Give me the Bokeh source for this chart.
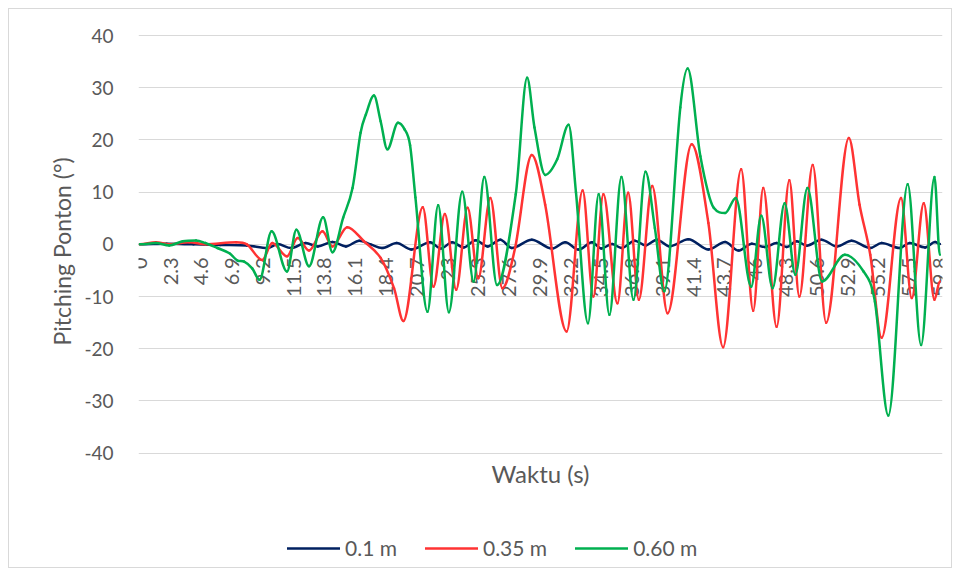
import math
from bokeh.plotting import figure
from bokeh.models import FixedTicker, Label, Legend, LegendItem, Range1d, ColumnDataSource, Title
from bokeh.core.properties import value
from bokeh.embed import file_html
from bokeh.resources import INLINE

# ---------------- data ----------------
tick_vals = [0, 2.3, 4.6, 6.9, 9.2, 11.5, 13.8, 16.1, 18.4, 20.7, 23, 25.3, 27.6,
             29.9, 32.2, 34.5, 36.8, 39.1, 41.4, 43.7, 46, 48.3, 50.6, 52.9, 55.2,
             57.5, 59.8]
tick_labels = ["0", "2.3", "4.6", "6.9", "9.2", "11.5", "13.8", "16.1", "18.4", "20.7",
               "23", "25.3", "27.6", "29.9", "32.2", "34.5", "36.8", "39.1", "41.4",
               "43.7", "46", "48.3", "50.6", "52.9", "55.2", "57.5", "59.8"]
y_ticks = [-40, -30, -20, -10, 0, 10, 20, 30, 40]

t_01 = [0, 2.0, 4.0, 6.0, 8.0, 9.55, 10.3, 11.3, 12.4, 13.3, 14.4, 15.4, 16.4, 17.25,
        18.1, 19.2, 20.3, 21.7, 22.5, 23.35, 24.2, 25.1, 26.0, 26.95, 27.8, 29.3, 30.8,
        31.8, 32.8, 33.8, 34.5, 35.3, 36.0, 37.0, 37.8, 38.65, 39.6, 41.0, 42.5, 43.75,
        44.75, 45.75, 46.7, 47.6, 48.35, 49.1, 49.85, 50.95, 52.1, 53.2, 54.6, 55.45,
        56.8, 57.55, 58.7, 59.45, 59.8]
v_01 = [0, 0.1, 0, -0.1, -0.2, -0.7, 0.05, -0.7, 0.25, -0.4, 0.45, -0.4, 0.7, 0,
        -0.7, 0.25, -1.0, 0.4, -0.8, 0.4, -0.6, 0.8, -0.4, 0.9, -0.7, 0.9, -0.8,
        0.4, -1.0, 0.4, -0.8, 0.05, -0.7, 0.7, -0.2, 0.9, -0.4, 1.0, -1.0, 0.45,
        -1.2, 0.1, -0.5, 0.25, -0.5, 0.6, -0.25, 0.9, -0.4, 0.7, -0.7, 0.25,
        -0.7, 0.25, -0.6, 0.45, 0.05]

t_035 = [0, 1.2, 2.2, 3.7, 4.9, 7.2, 8.0, 9.15, 9.9, 11.0, 11.8, 12.65, 13.65, 14.4,
         15.5, 16.75, 18.0, 19.0, 19.7, 21.15, 21.95, 22.8, 23.65, 24.5, 25.3, 26.2,
         27.1, 28.05, 29.3, 30.3, 31.9, 33.1, 33.9, 34.65, 35.7, 36.5, 37.3, 38.3,
         39.45, 41.25, 42.5, 43.6, 44.95, 45.85, 46.6, 47.6, 48.55, 49.3, 50.3, 51.3,
         53.0, 53.8, 54.6, 55.45, 56.9, 57.7, 58.6, 59.4, 59.8]
v_035 = [0, 0.4, 0, 0.4, 0, 0.4, 0, -3.0, 0.25, -2.3, 1.2, -1.2, 2.5, -0.4,
         3.3, 0.6, -2.6, -8.4, -14.7, 7.1, -8.1, 5.8, -8.7, 7.0, -6.5, 8.9,
         -8.4, -0.7, 17.1, 7.6, -16.7, 10.3, -10.0, 9.6, -11.3, 9.9, -10.6, 11.2,
         -13.2, 19.2, 4.1, -19.7, 14.4, -12.7, 10.8, -15.8, 12.3, -10.0, 15.2, -15.0,
         20.4, 7.6, -2.0, -17.9, 8.9, -10.3, 7.9, -10.6, -7.1]

t_060 = [0, 1.2, 2.2, 3.2, 4.2, 4.9, 5.8, 6.7, 7.3, 7.8, 8.4, 8.95, 9.85, 11.0, 11.7,
         12.65, 13.7, 14.4, 15.2, 15.9, 16.5, 16.9, 17.5, 18.0, 18.5, 19.3, 19.8, 20.2,
         20.6, 21.5, 22.3, 23.1, 24.1, 24.95, 25.75, 26.7, 28.1, 28.95, 29.5, 30.3,
         31.2, 32.05, 32.6, 33.5, 34.3, 35.1, 36.0, 36.9, 37.8, 38.5, 39.2, 40.4,
         40.95, 41.9, 42.9, 43.75, 44.55, 45.7, 46.45, 47.3, 48.2, 49.0, 49.9, 51.0,
         52.7, 54.1, 54.95, 55.95, 57.4, 58.4, 59.4, 59.8]
v_060 = [0, 0.25, -0.2, 0.6, 0.75, 0.25, -0.7, -1.7, -3.1, -3.3, -4.6, -6.8, 2.5, -5.2, 2.8,
         -4.2, 5.2, -1.5, 5.1, 10.8, 21.4, 24.9, 28.5, 23.6, 18.2, 23.3, 22.0, 19.0,
         9.0, -12.9, 7.5, -13.0, 10.1, -7.1, 12.9, -7.8, 9.6, 31.9, 22.4, 13.3,
         16.3, 22.9, 10.0, -15.1, 9.6, -13.5, 12.9, -10.6, 13.9, 3.1, -9.0, 26.2,
         33.7, 16.9, 7.0, 6.0, 8.9, -8.1, 5.5, -8.4, 7.9, -5.8, 10.8, -7.1,
         -2.0, -5.2, -11.0, -32.8, 11.5, -19.3, 12.9, -2.0]

series_names = ["0.1 m", "0.35 m", "0.60 m"]
series_colors = ["#002060", "#FF3333", "#00B050"]


def smooth_segments(xs, ys):
    """Cubic Bezier segments through the read points (smoothed line, like the
    original chart); control points derived from the points themselves."""
    n = len(xs)
    slopes = []
    for i in range(n):
        if i == 0 or i == n - 1:
            slopes.append(0.0)
            continue
        d0 = (ys[i] - ys[i - 1]) / (xs[i] - xs[i - 1])
        d1 = (ys[i + 1] - ys[i]) / (xs[i + 1] - xs[i])
        if d0 * d1 <= 0:
            slopes.append(0.0)
        else:
            s = (ys[i + 1] - ys[i - 1]) / (xs[i + 1] - xs[i - 1])
            lim = 3 * min(abs(d0), abs(d1))
            slopes.append(max(-lim, min(lim, s)))
    seg = dict(x0=[], y0=[], x1=[], y1=[], cx0=[], cy0=[], cx1=[], cy1=[])
    for i in range(n - 1):
        h = xs[i + 1] - xs[i]
        seg["x0"].append(xs[i]); seg["y0"].append(ys[i])
        seg["x1"].append(xs[i + 1]); seg["y1"].append(ys[i + 1])
        seg["cx0"].append(xs[i] + h / 3); seg["cy0"].append(ys[i] + slopes[i] * h / 3)
        seg["cx1"].append(xs[i + 1] - h / 3); seg["cy1"].append(ys[i + 1] - slopes[i + 1] * h / 3)
    return seg


# ---------------- figure ----------------
FONT = "Lato"
GREY = "#595959"

p = figure(width=944, height=560, output_backend="svg", toolbar_location=None,
           x_range=Range1d(-0.1, 60.0), y_range=Range1d(-62.3, 45.0),
           min_border_left=129, min_border_right=11, min_border_top=0,
           min_border_bottom=0, background_fill_color="white",
           border_fill_color="white")
p.outline_line_color = None
p.styles = {"margin": "8px", "border": "1px solid #D9D9D9", "box-sizing": "border-box"}

p.xaxis.visible = False
p.xgrid.visible = False
p.ygrid.ticker = FixedTicker(ticks=y_ticks)
p.ygrid.grid_line_color = "#D9D9D9"
p.ygrid.grid_line_width = 1

yax = p.yaxis[0]
yax.ticker = FixedTicker(ticks=y_ticks)
yax.major_label_overrides = {v: str(v) for v in y_ticks}
yax.axis_line_color = None
yax.major_tick_line_color = None
yax.minor_tick_line_color = None
yax.major_label_text_font = FONT
yax.major_label_text_font_size = "19px"
yax.major_label_text_color = GREY
yax.major_label_standoff = 19

# y-axis title, placed over the -40..40 band like the original
p.add_layout(Title(text="Pitching Ponton (°)", align="left", offset=224,
                   text_font=FONT, text_font_size="23px", text_font_style="normal",
                   text_color=GREY, standoff=12), "left")

# category tick labels sitting on the zero line
lab_src = ColumnDataSource(dict(x=tick_vals, y=[0] * len(tick_vals), text=tick_labels))
p.text(x="x", y="y", text="text", source=lab_src, angle=math.pi / 2,
       text_align="right", text_baseline="middle", y_offset=13,
       text_font=value(FONT), text_font_size="20px", text_color=GREY)

renderers = []
for t, v, c in zip([t_01, t_035, t_060], [v_01, v_035, v_060], series_colors):
    src = ColumnDataSource(smooth_segments(t, v))
    r = p.bezier(x0="x0", y0="y0", x1="x1", y1="y1", cx0="cx0", cy0="cy0",
                 cx1="cx1", cy1="cy1", source=src, line_color=c, line_width=2.5,
                 line_cap="round")
    renderers.append(r)

p.add_layout(Label(x=29.95, y=-44.0, text="Waktu (s)", text_align="center",
                   text_baseline="middle", text_font=FONT, text_font_size="24px",
                   text_color=GREY))

legend = Legend(items=[LegendItem(label=n, renderers=[r]) for n, r in zip(series_names, renderers)],
                orientation="horizontal", location=(149, 9), padding=0, margin=0,
                spacing=28, glyph_width=53, glyph_height=20, label_standoff=5,
                label_text_font=FONT, label_text_font_size="21px", label_text_color=GREY,
                border_line_color=None, background_fill_alpha=0)
p.add_layout(legend, "center")

open("out.html", "w").write(file_html(p, INLINE))
